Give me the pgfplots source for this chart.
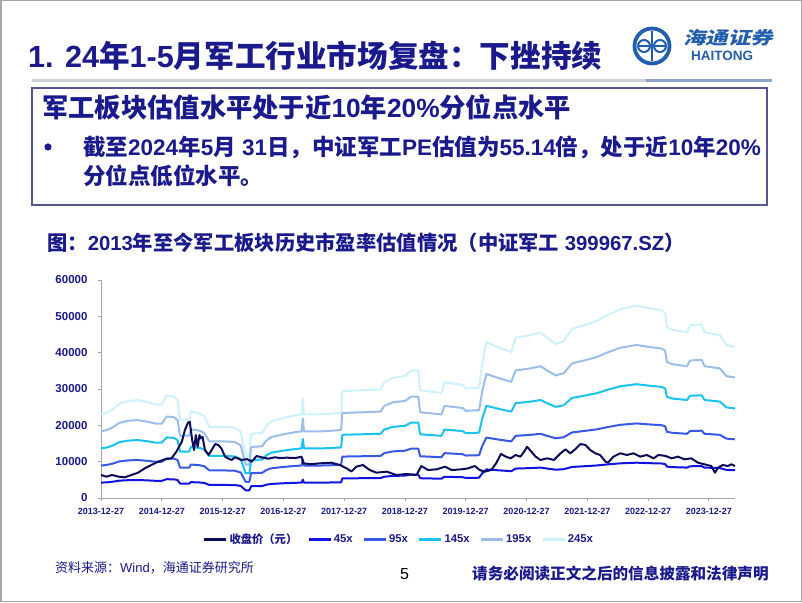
\documentclass[border=0pt]{standalone}
\usepackage{fontspec}
\setmainfont{Liberation Sans}
\newfontfamily\cjk{Noto Sans CJK SC}
\newfontfamily\cjkslant[FakeSlant=0.2]{Noto Sans CJK SC}
\usepackage{pgfplots}
\usepackage{pgfplotstable}
\pgfplotsset{compat=1.18}

\definecolor{navy}{RGB}{26,26,140}
\definecolor{cprice}{RGB}{12,12,90}
\definecolor{c45}{RGB}{18,18,225}
\definecolor{c95}{RGB}{55,90,230}
\definecolor{c145}{RGB}{25,195,240}
\definecolor{c195}{RGB}{155,190,235}
\definecolor{c245}{RGB}{205,242,252}
\definecolor{axisgray}{RGB}{166,166,166}
\definecolor{logoblue}{RGB}{35,95,175}
\definecolor{boxcol}{RGB}{85,85,145}
\definecolor{rulegray}{RGB}{205,208,218}
\definecolor{ruleblue}{RGB}{138,163,200}

\pgfplotstableread{
x b45 b95 b145 b195 b245
0.00 4230 8930 13630 18330 23030
0.10 4320 9120 13920 18720 23520
0.20 4500 9500 14500 19500 24500
0.30 4770 10070 15370 20670 25970
0.45 4905 10355 15805 21255 26705
0.60 4950 10450 15950 21450 26950
0.75 4860 10260 15660 21060 26460
0.90 4725 9975 15225 20475 25725
1.00 4725 9975 15225 20475 25725
1.08 5175 10925 16675 22425 28175
1.20 5130 10830 16530 22230 27930
1.26 4950 10450 15950 21450 26950
1.30 3960 8360 12760 17160 21560
1.45 3960 8360 12760 17160 21560
1.48 4365 9215 14065 18915 23765
1.62 4275 9025 13775 18525 23275
1.70 4140 8740 13340 17940 22540
1.78 3600 7600 11600 15600 19600
2.00 3600 7600 11600 15600 19600
2.20 3555 7505 11455 15405 19355
2.30 3330 7030 10730 14430 18130
2.34 2700 5700 8700 11700 14700
2.38 2115 4465 6815 9165 11515
2.44 2115 4465 6815 9165 11515
2.47 3240 6840 10440 14040 17640
2.65 3285 6935 10585 14235 17885
2.72 3645 7695 11745 15795 19845
2.80 3870 8170 12470 16770 21070
2.90 3960 8360 12760 17160 21560
3.00 4050 8550 13050 17550 22050
3.20 4185 8835 13485 18135 22785
3.30 4230 8930 13630 18330 23030
3.32 5040 10640 16240 21840 27440
3.34 4230 8930 13630 18330 23030
3.60 4230 8930 13630 18330 23030
3.80 4275 9025 13775 18525 23275
3.95 4320 9120 13920 18720 23520
3.97 5400 11400 17400 23400 29400
4.30 5445 11495 17545 23595 29645
4.60 5490 11590 17690 23790 29890
4.66 5850 12350 18850 25350 31850
4.80 6075 12825 19575 26325 33075
5.00 6165 13015 19865 26715 33565
5.10 6435 13585 20735 27885 35035
5.22 6435 13585 20735 27885 35035
5.25 5445 11495 17545 23595 29645
5.60 5310 11210 17110 23010 28910
5.65 5850 12350 18850 25350 31850
5.95 5715 12065 18415 24765 31115
6.00 5535 11685 17835 23985 30135
6.22 5580 11780 17980 24180 30380
6.27 6750 14250 21750 29250 36750
6.34 7875 16625 25375 34125 42875
6.55 7605 16055 24505 32955 41405
6.75 7380 15580 23780 31980 40180
6.82 8100 17100 26100 35100 44100
7.07 8235 17385 26535 35685 44835
7.23 8370 17670 26970 36270 45570
7.34 8100 17100 26100 35100 44100
7.48 7785 16435 25085 33735 42385
7.61 7920 16720 25520 34320 43120
7.75 8550 18050 27550 37050 46550
7.94 8730 18430 28130 37830 47530
8.16 8955 18905 28855 38805 48755
8.32 9225 19475 29725 39975 50225
8.54 9540 20140 30740 41340 51940
8.81 9720 20520 31320 42120 52920
9.03 9585 20235 30885 41535 52185
9.22 9495 20045 30595 41145 51695
9.28 9360 19760 30160 40560 50960
9.31 8640 18240 27840 37440 47040
9.39 8505 17955 27405 36855 46305
9.64 8370 17670 26970 36270 45570
9.69 8730 18430 28130 37830 47530
9.88 8775 18525 28275 38025 47775
9.93 8370 17670 26970 36270 45570
10.18 8235 17385 26535 35685 44835
10.29 7740 16340 24940 33540 42140
10.43 7650 16150 24650 33150 41650
}\bands

\pgfplotstableread{
x y
0.00 6330
0.09 5870
0.18 6330
0.29 5870
0.39 5690
0.50 6330
0.61 6970
0.72 8160
0.83 9080
0.94 10000
1.05 10640
1.16 10900
1.24 12750
1.33 15500
1.38 18700
1.43 20700
1.46 21000
1.50 15960
1.53 13200
1.56 17330
1.59 14100
1.62 17330
1.64 16400
1.67 16880
1.71 13200
1.77 11840
1.82 13200
1.88 14860
1.93 14580
1.98 13670
2.04 11380
2.09 10900
2.15 10450
2.20 11200
2.26 10830
2.31 10450
2.40 10700
2.48 10000
2.56 11560
2.64 11200
2.75 10830
2.86 11200
2.95 11000
3.05 11100
3.20 11000
3.30 11370
3.33 9540
3.45 9300
3.60 9540
3.79 9720
3.93 9080
4.04 8160
4.12 7300
4.20 8620
4.31 9080
4.42 7710
4.53 6970
4.70 7250
4.86 6330
5.02 6600
5.19 6330
5.27 8800
5.38 7710
5.52 7890
5.66 8610
5.77 7700
5.93 7890
6.04 8160
6.15 8800
6.23 7700
6.31 7250
6.42 7700
6.50 9540
6.58 12110
6.66 11380
6.74 10920
6.82 11840
6.90 11380
6.96 12750
7.01 14100
7.08 12750
7.15 11380
7.23 10460
7.34 10920
7.45 10460
7.56 12300
7.64 13400
7.72 12300
7.80 13400
7.89 14860
7.97 14580
8.05 13200
8.13 12300
8.21 11840
8.30 10000
8.34 9720
8.43 11380
8.54 12300
8.65 11840
8.76 12300
8.87 11380
8.98 11840
9.09 10920
9.17 11840
9.28 11600
9.39 10920
9.49 11380
9.60 10640
9.71 10920
9.82 9720
9.93 9260
10.04 8800
10.10 6970
10.15 8340
10.23 9080
10.31 8800
10.37 9260
10.43 8800
}\price

\begin{document}
\begin{tikzpicture}[x=1pt,y=1pt]
\useasboundingbox (0,0) rectangle (802,602);
\fill[white] (0,0) rectangle (802,602);
\draw[gray!70, line width=1.5pt] (0.75,0.75) rectangle (801.25,601.25);

% title
\node[anchor=base west, inner sep=0pt, text=navy, font=\bfseries\fontsize{30.6}{30.6}\selectfont] at (28,534)
  {1. 24{\cjk 年}1-5{\cjk 月军工行业市场复盘：下挫持续}};

% logo
\draw[logoblue, line width=3.8pt] (652,556) circle (17.5);
\draw[logoblue, line width=2.2pt] (652,541) -- (652,571);
\draw[logoblue, line width=2pt] (644,556) circle (6);
\draw[logoblue, line width=2pt] (660,556) circle (6);
\draw[logoblue, line width=1.5pt] (637,556) -- (667,556);
\node[text=logoblue, inner sep=0pt, font=\cjkslant\bfseries\fontsize{22.5}{22.5}\selectfont] at (728,564) {\scalebox{1}[0.78]{海通证券}};
\node[text=logoblue, inner sep=0pt, font=\bfseries\fontsize{13.5}{13.5}\selectfont] at (722,546) {HAITONG};

% rule
\fill[rulegray] (32,519.5) rectangle (646,522.5);
\fill[ruleblue] (646,519.5) rectangle (772,522.5);

% box
\draw[boxcol, line width=1.2pt] (32,397) rectangle (767,514);
\node[anchor=base west, inner sep=0pt, text=navy, font=\bfseries\fontsize{26.3}{26.3}\selectfont] at (42,484.5)
  {{\cjk 军工板块估值水平处于近}10{\cjk 年}20\%{\cjk 分位点水平}};
\fill[navy] (48,455) circle (3.6);
\node[anchor=base west, inner sep=0pt, text=navy, font=\bfseries\fontsize{22.5}{22.5}\selectfont] at (83,446.5)
  {{\cjk 截至}2024{\cjk 年}5{\cjk 月}~31{\cjk 日，中证军工}PE{\cjk 估值为}55.14{\cjk 倍，处于近}10{\cjk 年}20\%};
\node[anchor=base west, inner sep=0pt, text=navy, font=\bfseries\fontsize{22.5}{22.5}\selectfont] at (83,417.5)
  {{\cjk 分位点低位水平。}};

% chart title
\node[anchor=base west, inner sep=0pt, text=navy, font=\bfseries\fontsize{20.3}{20.3}\selectfont] at (47,351.4)
  {{\cjk 图：}2013{\cjk 年至今军工板块历史市盈率估值情况（中证军工}~399967.SZ{\cjk ）}};

% footer
\node[anchor=base west, inner sep=0pt, text=navy, font=\fontsize{13}{13}\selectfont] at (55,30)
  {{\cjk 资料来源：}Wind{\cjk ，海通证券研究所}};
\node[anchor=base west, inner sep=0pt, text=black, font=\fontsize{16}{16}\selectfont] at (400,23) {5};
\node[anchor=base west, inner sep=0pt, text=navy, font=\bfseries\fontsize{15.6}{15.6}\selectfont] at (472,23)
  {{\cjk 请务必阅读正文之后的信息披露和法律声明}};

\begin{axis}[
  at={(101pt,104pt)}, anchor=south west,
  scale only axis, width=634pt, height=218pt,
  xmin=0, xmax=10.43, ymin=0, ymax=60000,
  axis x line*=bottom, axis y line*=left,
  axis line style={draw=axisgray, line width=0.8pt, -},
  tick style={draw=axisgray, line width=0.8pt},
  tick align=outside, major tick length=3pt,
  xtick={0,1,2,3,4,5,6,7,8,9,10},
  xticklabels={2013-12-27,2014-12-27,2015-12-27,2016-12-27,2017-12-27,2018-12-27,2019-12-27,2020-12-27,2021-12-27,2022-12-27,2023-12-27},
  ytick={0,10000,20000,30000,40000,50000,60000},
  scaled y ticks=false,
  /pgf/number format/assume math mode=true,
  /pgf/number format/1000 sep={},
  xticklabel style={font=\bfseries\fontsize{9}{10}\selectfont, text=navy, yshift=-4pt},
  yticklabel style={font=\bfseries\fontsize{11.5}{12}\selectfont, text=navy, xshift=-7pt},
  legend style={at={(0.47,-0.19)}, anchor=center, draw=none, fill=none,
    font=\bfseries\fontsize{11.3}{12}\selectfont, text=navy,
    /tikz/every even column/.append style={column sep=8pt}},
  legend columns=6,
  legend image code/.code={\draw[#1, line width=2.5pt] (0pt,0pt) -- (22pt,0pt);},
  every axis plot/.append style={line width=2pt, line join=round},
  clip=false,
]
\addplot[c245, forget plot] table[x=x, y=b245] {\bands};
\addplot[c195, forget plot] table[x=x, y=b195] {\bands};
\addplot[c145, forget plot] table[x=x, y=b145] {\bands};
\addplot[c95, forget plot] table[x=x, y=b95] {\bands};
\addplot[c45, forget plot] table[x=x, y=b45] {\bands};
\addplot[cprice, forget plot] table[x=x, y=y] {\price};
\addlegendimage{cprice}
\addlegendentry{{\cjk 收盘价（元）}}
\addlegendimage{c45}
\addlegendentry{45x}
\addlegendimage{c95}
\addlegendentry{95x}
\addlegendimage{c145}
\addlegendentry{145x}
\addlegendimage{c195}
\addlegendentry{195x}
\addlegendimage{c245}
\addlegendentry{245x}
\end{axis}
\end{tikzpicture}
\end{document}
